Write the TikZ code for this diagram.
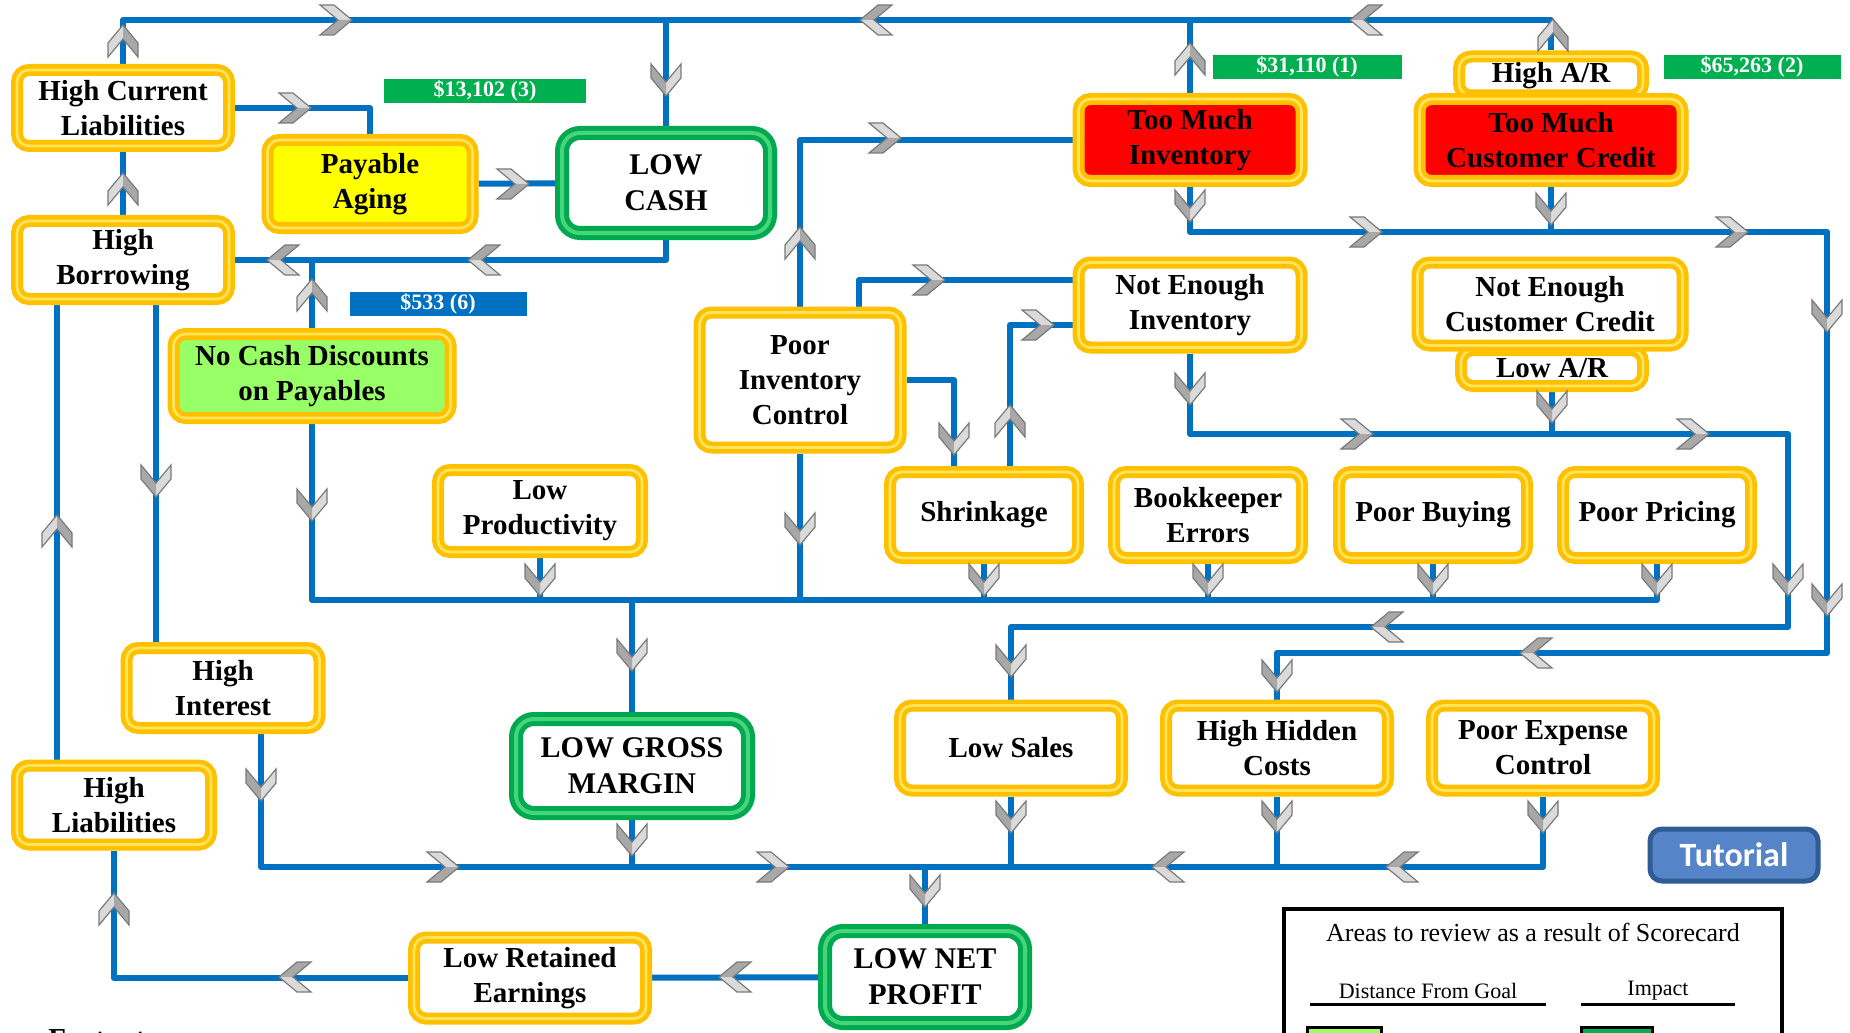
\documentclass[tikz,border=0pt]{standalone}
\usepackage{fontspec}
\setmainfont{Liberation Serif}
\newfontfamily\tutfont{Carlito}
\usepackage{tikz}
\usetikzlibrary{calc,backgrounds}

\definecolor{railblue}{HTML}{0070C0}
\definecolor{goldA}{HTML}{FFC000}
\definecolor{goldB}{HTML}{FFE45C}
\definecolor{greenA}{HTML}{00A850}
\definecolor{greenB}{HTML}{45D57A}
\definecolor{tagreen}{HTML}{00B050}
\definecolor{redfill}{HTML}{FF0000}
\definecolor{yelfill}{HTML}{FFFF00}
\definecolor{limefill}{HTML}{99FF66}
\definecolor{tutblue}{HTML}{5585C8}
\definecolor{tutedge}{HTML}{2F5C94}
\definecolor{chevlight}{HTML}{DADADA}
\definecolor{chevdark}{HTML}{A8A8A8}
\definecolor{chevedge}{HTML}{7A7A7A}

\newcommand{\boxfont}{\fontsize{14.5pt}{17.5pt}\selectfont\bfseries}

\tikzset{
  rail/.style={draw=railblue, line width=3pt, line join=round},
  goldbox/.style={draw=goldA, line width=6pt, rounded corners=6pt, fill=white,
    align=center, inner sep=0pt, font=\boxfont,
    postaction={draw=goldB, line width=1.4pt}},
  greenbox/.style={draw=greenA, line width=7pt, rounded corners=9pt, fill=white,
    align=center, inner sep=0pt, font=\fontsize{15pt}{18pt}\selectfont\bfseries,
    postaction={draw=greenB, line width=2pt}},
  tag/.style={fill=#1, text=white, inner sep=0pt, minimum height=12pt,
    font=\fontsize{11pt}{12pt}\selectfont\bfseries},
  chev/.pic={
    \fill[chevlight] (-16,-15) -- (-2,-15) -- (16,0) -- (2,0) -- cycle;
    \fill[chevdark] (2,0) -- (16,0) -- (-2,15) -- (-16,15) -- cycle;
    \draw[chevedge, line width=0.6pt, line join=miter]
      (-16,-15) -- (-2,-15) -- (16,0) -- (-2,15) -- (-16,15) -- (2,0) -- cycle;
  }
}

\begin{document}
\begin{tikzpicture}[x=0.5pt, y=-0.5pt]
    \useasboundingbox (0,0) rectangle (1850,1032);
    \clip (0,0) rectangle (1850,1032);
    %% rail levels
    \coordinate (top) at (0,20);
    \coordinate (r1) at (0,260);
    \coordinate (r2) at (0,600);
    \coordinate (r3) at (0,867);
    \coordinate (r4) at (0,434);
    \coordinate (r5) at (1788,627);
    \coordinate (r6) at (0,232);
    \coordinate (r7) at (1827,653);
    %% boxes
    \node[goldbox, minimum width=106pt, minimum height=38pt] (hcl) at (123,108) {High Current\\Liabilities};
    \node[goldbox, minimum width=106pt, minimum height=39pt] (hb) at (123,260) {High\\Borrowing};
    \node[goldbox, fill=yelfill, minimum width=102.5pt, minimum height=44pt] (pa) at (370,184) {Payable\\Aging};
    \node[greenbox, minimum width=104pt, minimum height=50pt] (lowcash) at (666,183) {LOW\\CASH};
    \node[goldbox, fill=limefill, minimum width=138.5pt, minimum height=42pt] (ncd) at (312,376) {No Cash Discounts\\on Payables};
    \node[goldbox, minimum width=92pt, minimum height=19.5pt] (har) at (1551,76) {High A/R};
    \node[goldbox, fill=redfill, minimum width=111.5pt, minimum height=41pt] (tmi) at (1190,140) {Too Much\\Inventory};
    \node[goldbox, fill=redfill, minimum width=131.5pt, minimum height=41pt] (tmcc) at (1551,140) {Too Much\\Customer Credit};
    \node[goldbox, minimum width=111.5pt, minimum height=42.5pt] (nei) at (1190,305) {Not Enough\\Inventory};
    \node[goldbox, minimum width=91pt, minimum height=18pt] (lar) at (1552,368) {Low A/R};
    \node[goldbox, minimum width=132.5pt, minimum height=41.5pt] (necc) at (1550,304) {Not Enough\\Customer Credit};
    \node[goldbox, minimum width=100.5pt, minimum height=67.5pt] (pic) at (800,380) {Poor\\Inventory\\Control};
    \node[goldbox, minimum width=102pt, minimum height=41pt] (lp) at (540,511) {Low\\Productivity};
    \node[goldbox, minimum width=94pt, minimum height=43pt] (shr) at (984,515) {Shrinkage};
    \node[goldbox, minimum width=94pt, minimum height=43pt] (bke) at (1208,515) {Bookkeeper\\Errors};
    \node[goldbox, minimum width=94pt, minimum height=43pt] (pbuy) at (1433,515) {Poor Buying};
    \node[goldbox, minimum width=94pt, minimum height=43pt] (ppr) at (1657,515) {Poor Pricing};
    \node[goldbox, minimum width=96.5pt, minimum height=40pt] (hint) at (223,688) {High\\Interest};
    \node[goldbox, minimum width=97pt, minimum height=39.5pt] (hliab) at (114,805) {High\\Liabilities};
    \node[greenbox, minimum width=116pt, minimum height=47pt] (lgm) at (632,766) {LOW GROSS\\MARGIN};
    \node[goldbox, minimum width=111pt, minimum height=42.5pt] (lsales) at (1011,748) {Low Sales};
    \node[goldbox, minimum width=111pt, minimum height=42.5pt] (hhc) at (1277,748) {High Hidden\\Costs};
    \node[goldbox, minimum width=111pt, minimum height=42.5pt] (pec) at (1543,748) {Poor Expense\\Control};
    \node[goldbox, minimum width=116pt, minimum height=40.5pt] (lre) at (530,978) {Low Retained\\Earnings};
    \node[greenbox, minimum width=100pt, minimum height=46pt] (lnp) at (925,977) {LOW NET\\PROFIT};
    %% dollar tags
    \node[tag=tagreen, minimum width=101pt] (tag3) at (485,91) {\$13,102 (3)};
    \node[tag=tagreen, minimum width=94.5pt] (tag1) at (1307,67) {\$31,110 (1)};
    \node[tag=tagreen, minimum width=88.5pt] (tag2) at (1752,67) {\$65,263 (2)};
    \node[tag=railblue, minimum width=88.5pt] (tag6) at (438,304) {\$533 (6)};
    %% tutorial button
    \node[fill=tutblue, draw=tutedge, line width=2.5pt, rounded corners=6pt,
      minimum width=84pt, minimum height=26pt, inner sep=0pt, text=white,
      font=\tutfont\fontsize{17pt}{20pt}\selectfont\bfseries] (tut) at (1734,855) {Tutorial};
    %% connectors under the boxes
    \begin{scope}[on background layer]
    \draw[rail] (hcl.north) -- (hcl.north |- top) -| (har.north);
    \draw[rail] (tmi.north) -- (tmi.north |- top);
    \draw[rail] (lowcash.north) -- (lowcash.north |- top);
    \draw[rail] (hcl.east) -| (pa.north);
    \draw[rail] (pa) -- (lowcash);
    \draw[rail] (hb) -- (hcl);
    \draw[rail] (lowcash.south) |- (hb.east);
    \draw[rail] (ncd.north) -- (ncd.north |- r1);
    \draw[rail] (ncd.south) |- (r2 -| ppr.south) -- (ppr.south);
    \draw[rail] (lp.south) -- (lp.south |- r2);
    \draw[rail] (pic.south) -- (pic.south |- r2);
    \draw[rail] (shr.south) -- (shr.south |- r2);
    \draw[rail] (bke.south) -- (bke.south |- r2);
    \draw[rail] (pbuy.south) -- (pbuy.south |- r2);
    \draw[rail] (lgm.north) -- (lgm.north |- r2);
    \draw[rail] (pic.north) |- (tmi.west);
    \draw[rail] ([xshift=29.5pt]pic.north) |- ([yshift=12.5pt]nei.west);
    \draw[rail] (pic.east) -| ([xshift=-15pt]shr.north);
    \draw[rail] ([xshift=13pt]shr.north) |- ([yshift=-10pt]nei.west);
    \draw[rail] ([xshift=-33pt]hb.south) -- ([xshift=-33pt]hb.south |- hliab.north);
    \draw[rail] ([xshift=16.5pt]hb.south) -- ([xshift=16.5pt]hb.south |- hint.north);
    \draw[rail] ([xshift=19pt]hint.south) |- (r3 -| pec.south) -- (pec.south);
    \draw[rail] (lgm.south) -- (lgm.south |- r3);
    \draw[rail] (lsales.south) -- (lsales.south |- r3);
    \draw[rail] (hhc.south) -- (hhc.south |- r3);
    \draw[rail] (lnp.north) -- (lnp.north |- r3);
    \draw[rail] (lnp) -- (lre);
    \draw[rail] (lre.west) -| (hliab.south);
    \draw[rail] (nei.south) |- (r5 |- r4) -- (r5) -| (lsales.north);
    \draw[rail] (lar.south) -- (lar.south |- r4);
    \draw[rail] (tmi.south) |- (r7 |- r6) -- (r7) -| (hhc.north);
    \draw[rail] (tmcc.south) -- (tmcc.south |- r6);
    \end{scope}
    %% chevrons on the rails
    \pic at (336,20) {chev};
    \pic[rotate=180] at (876,20) {chev};
    \pic[rotate=180] at (1366,20) {chev};
    \pic[rotate=90] at (123,41) {chev};
    \pic[rotate=90] at (1553,35) {chev};
    \pic[rotate=90] at (1190,59) {chev};
    \pic[rotate=-90] at (666,80) {chev};
    \pic at (295,108) {chev};
    \pic at (513,184) {chev};
    \pic[rotate=90] at (123,189) {chev};
    \pic[rotate=180] at (484,260) {chev};
    \pic[rotate=180] at (283,260) {chev};
    \pic[rotate=90] at (312,295) {chev};
    \pic[rotate=-90] at (312,505) {chev};
    \pic[rotate=-90] at (540,580) {chev};
    \pic[rotate=-90] at (984,580) {chev};
    \pic[rotate=-90] at (1208,580) {chev};
    \pic[rotate=-90] at (1433,580) {chev};
    \pic[rotate=-90] at (1657,580) {chev};
    \pic[rotate=-90] at (800,529) {chev};
    \pic[rotate=-90] at (632,655) {chev};
    \pic[rotate=90] at (800,243) {chev};
    \pic at (885,138) {chev};
    \pic at (929,280) {chev};
    \pic[rotate=-90] at (954,439) {chev};
    \pic[rotate=90] at (1010,421) {chev};
    \pic at (1038,325) {chev};
    \pic[rotate=90] at (57,531) {chev};
    \pic[rotate=-90] at (156,481) {chev};
    \pic[rotate=-90] at (261,785) {chev};
    \pic at (443,867) {chev};
    \pic at (773,867) {chev};
    \pic[rotate=180] at (1168,867) {chev};
    \pic[rotate=180] at (1402,867) {chev};
    \pic[rotate=-90] at (632,840) {chev};
    \pic[rotate=-90] at (1011,817) {chev};
    \pic[rotate=-90] at (1277,817) {chev};
    \pic[rotate=-90] at (1543,817) {chev};
    \pic[rotate=-90] at (925,891) {chev};
    \pic[rotate=180] at (735,977) {chev};
    \pic[rotate=180] at (295,977) {chev};
    \pic[rotate=90] at (114,909) {chev};
    \pic[rotate=-90] at (1190,389) {chev};
    \pic at (1357,434) {chev};
    \pic at (1693,434) {chev};
    \pic[rotate=-90] at (1788,580) {chev};
    \pic[rotate=180] at (1387,627) {chev};
    \pic[rotate=-90] at (1011,661) {chev};
    \pic[rotate=-90] at (1552,407) {chev};
    \pic[rotate=-90] at (1190,206) {chev};
    \pic at (1366,232) {chev};
    \pic at (1732,232) {chev};
    \pic[rotate=-90] at (1827,316) {chev};
    \pic[rotate=-90] at (1827,600) {chev};
    \pic[rotate=180] at (1536,653) {chev};
    \pic[rotate=-90] at (1277,676) {chev};
    \pic[rotate=-90] at (1551,209) {chev};
    %% legend
    \draw[line width=2pt] (1284,909) rectangle (1782,1060);
    \node[font=\fontsize{13pt}{15pt}\selectfont] (legtitle) at (1533,932) {Areas to review as a result of Scorecard};
    \node[font=\fontsize{11pt}{13pt}\selectfont] (legdist) at (1428,991) {Distance From Goal};
    \node[font=\fontsize{11pt}{13pt}\selectfont] (legimp) at (1658,991) {Impact};
    \draw[line width=1.5pt] (1310,1004) -- (1546,1004);
    \draw[line width=1.5pt] (1581,1004) -- (1735,1004);
    \filldraw[fill=limefill, draw=black, line width=1.5pt] (1307,1027) rectangle (1381,1050);
    \filldraw[fill=tagreen, draw=black, line width=1.5pt] (1581,1027) rectangle (1652,1050);
    %% footnote heading, cut by the page edge as in the source
    \node[anchor=north west, inner sep=0pt, font=\boxfont] (fnote) at (48,1029) {Footnotes};
\end{tikzpicture}
\end{document}
